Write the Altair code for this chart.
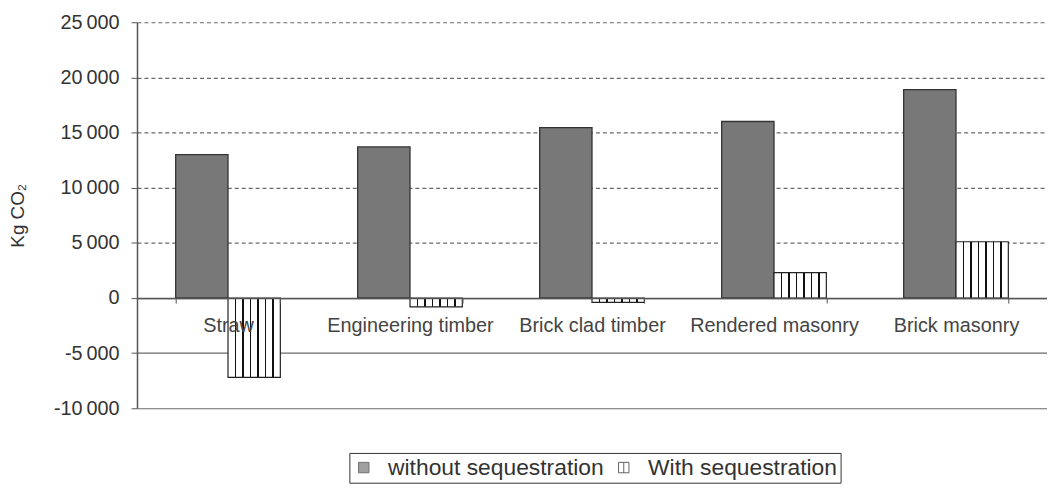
import altair as alt
import pandas as pd

categories = ["Straw", "Engineering timber", "Brick clad timber", "Rendered masonry", "Brick masonry"]
without_seq = [13000, 13700, 15450, 16000, 18900]
with_seq = [-7200, -800, -400, 2300, 5100]
series_names = ["without sequestration", "With sequestration"]
y_ticks = [-10000, -5000, 0, 5000, 10000, 15000, 20000, 25000]

rows = []
for c, a, b in zip(categories, without_seq, with_seq):
    rows.append({"category": c, "series": series_names[0], "value": a})
    rows.append({"category": c, "series": series_names[1], "value": b})
df = pd.DataFrame(rows)

FONT = "Liberation Sans"

# vertical hatch pattern as a hard-stop linear gradient
stripes = 7
hw = 0.013
stops = [{"offset": 0, "color": "#ffffff"}]
for k in range(1, stripes):
    o = k / stripes
    stops += [
        {"offset": o - hw, "color": "#ffffff"},
        {"offset": o - hw, "color": "#111111"},
        {"offset": o + hw, "color": "#111111"},
        {"offset": o + hw, "color": "#ffffff"},
    ]
stops.append({"offset": 1, "color": "#ffffff"})
hatch = {"gradient": "linear", "x1": 0, "x2": 1, "y1": 0, "y2": 0, "stops": stops}

label_expr = "replace(replace(format(datum.value, ','), ',', '\u2009'), '\u2212', '-')"

x_enc = alt.X(
    "category:N",
    sort=categories,
    scale=alt.Scale(paddingInner=0.425, paddingOuter=0.2125),
    axis=alt.Axis(
        title=None, labelAngle=0, tickBand="extent", offset=-111,
        labelFont=FONT, labelFontSize=20, labelColor="#444", labelPadding=13,
        tickSize=5, tickColor="#555", domainColor="#555", domainWidth=1.5,
        grid=False, zindex=1,
    ),
)
xoff = alt.XOffset("series:N", scale=alt.Scale(domain=series_names))
y_enc = alt.Y(
    "value:Q",
    scale=alt.Scale(domain=[-10000, 25000], nice=False),
    axis=alt.Axis(
        values=y_ticks, title="Kg CO\u2082", labelExpr=label_expr,
        labelFont=FONT, labelFontSize=20, labelColor="#333", labelPadding=12,
        tickSize=6, tickColor="#555", domainColor="#555", domainWidth=1.5,
        grid=True, gridColor="#6a6a6a", gridWidth=1.2,
        gridDash={"condition": {"test": "datum.value > 0", "value": [4, 3]}, "value": []},
        titleFont=FONT, titleFontSize=19, titleFontWeight="normal", titleColor="#333",
        titleX=-110,
    ),
)

base = alt.Chart(df).encode(x=x_enc, xOffset=xoff, y=y_enc)

bars1 = base.transform_filter(alt.datum.series == series_names[0]).mark_bar(
    fill="#787878", stroke="#333333", strokeWidth=1.3
)
bars2 = base.transform_filter(alt.datum.series == series_names[1]).mark_bar(
    fill=hatch, stroke="#222222", strokeWidth=1.2
)

legend_layer = base.transform_filter("false").mark_point(filled=True, strokeWidth=1).encode(
    color=alt.Color("series:N", scale=alt.Scale(domain=series_names, range=["#787878", "#ffffff"]),
                    legend=alt.Legend(title=None)),
    shape=alt.Shape("series:N", scale=alt.Scale(domain=series_names,
                    range=["square", "M-1,-1H1V1H-1Z M0,-1V1"]),
                    legend=alt.Legend(title=None)),
    stroke=alt.Stroke("series:N", scale=alt.Scale(domain=series_names, range=["#333333", "#222222"]),
                      legend=alt.Legend(title=None)),
)

chart = (
    alt.layer(bars1, bars2, legend_layer)
    .properties(
        width=917, height=389,
        padding={"left": 130, "top": 12.5, "right": 0, "bottom": 80},
        autosize=alt.AutoSizeParams(type="none"),
        background="white",
    )
    .configure_view(strokeWidth=0)
    .configure_legend(
        orient="none", legendX=214, legendY=434,
        direction="horizontal", strokeColor="#333333", padding=3,
        labelFont=FONT, labelFontSize=23, labelColor="#333333", labelLimit=0,
        symbolSize=110, symbolStrokeWidth=1, columnPadding=8, labelOffset=13,
    )
)

chart.save("out.html", embed_options={"renderer": "svg", "actions": False})
